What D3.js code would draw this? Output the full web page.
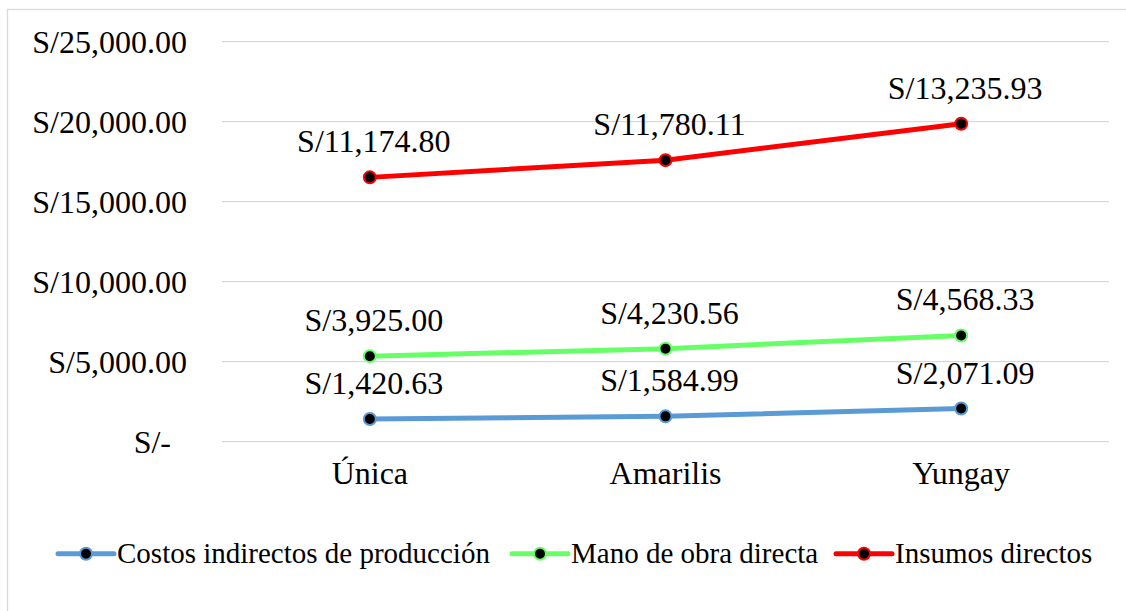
<!DOCTYPE html>
<html>
<head>
<meta charset="utf-8">
<script src="https://cdn.jsdelivr.net/npm/d3@7/dist/d3.min.js"></script>
</head>
<body style="margin:0">
<script>
// ---- Data ----
const categories = ["Única", "Amarilis", "Yungay"];
const seriesNames = ["Costos indirectos de producción", "Mano de obra directa", "Insumos directos"];
const costosIndirectos = [1420.63, 1584.99, 2071.09];
const manoDeObra = [3925.00, 4230.56, 4568.33];
const insumosDirectos = [11174.80, 11780.11, 13235.93];
const yTicks = [0, 5000, 10000, 15000, 20000, 25000];
const seriesColors = ["#5B9BD5", "#66FF66", "#FF0000"];

const seriesValues = [costosIndirectos, manoDeObra, insumosDirectos];

// ---- Layout ----
const FONT = '"Liberation Serif"';
const plot = { left: 222, right: 1109, top: 41.7, bottom: 441.7 };
const legendX = [58, 512, 836];
const svg = d3.select("body").append("svg")
  .attr("width", 1126).attr("height", 611)
  .style("display", "block");

function serif(sel, size) {
  sel.style("font-family", FONT, "important")
     .attr("font-size", size)
     .attr("fill", "#000");
  return sel;
}

// Chart frame border
svg.append("rect")
  .attr("x", 7.5).attr("y", 9.5)
  .attr("width", 1146).attr("height", 631)
  .attr("fill", "none").attr("stroke", "#d9d9d9").attr("stroke-width", 1.3);

const x = d3.scaleBand().domain(categories).range([plot.left, plot.right]);
const y = d3.scaleLinear().domain([0, 25000]).range([plot.bottom, plot.top]);

const money = d3.format(",.2f");
const fmt = v => v === 0 ? "S/-" : "S/" + money(v);

// Gridlines
svg.append("g").selectAll("line").data(yTicks).join("line")
  .attr("x1", plot.left).attr("x2", plot.right)
  .attr("y1", d => y(d)).attr("y2", d => y(d))
  .attr("stroke", "#d9d9d9").attr("stroke-width", 1.3);

// Y axis (labels only)
const yAxis = d3.axisLeft(y).tickValues(yTicks).tickFormat(fmt).tickSize(0).tickPadding(0);
const gy = svg.append("g").attr("transform", `translate(187,0)`).call(yAxis);
gy.select(".domain").remove();
gy.attr("font-family", null).attr("font-size", null);
serif(gy.selectAll("text"), 32)
  .attr("dy", "0.33em")
  .attr("dx", d => d === 0 ? -16 : 0);

// X axis (labels only)
const xAxis = d3.axisBottom(x).tickSize(0).tickPadding(0);
const gx = svg.append("g").attr("transform", `translate(0,${plot.bottom})`).call(xAxis);
gx.select(".domain").remove();
gx.attr("font-family", null).attr("font-size", null);
serif(gx.selectAll("text"), 32)
  .attr("y", 42).attr("dy", 0);

// Stacked values
const stacked = [];
const cum = categories.map(() => 0);
seriesValues.forEach((vals) => {
  stacked.push(vals.map((v, i) => { cum[i] += v; return { cat: categories[i], raw: v, top: cum[i] }; }));
});

const line = d3.line().x(d => x(d.cat) + x.bandwidth() / 2).y(d => y(d.top));

stacked.forEach((pts, si) => {
  const g = svg.append("g");
  g.append("path").datum(pts).attr("d", line)
    .attr("fill", "none").attr("stroke", seriesColors[si]).attr("stroke-width", 5)
    .attr("stroke-linecap", "round");
  g.selectAll("circle").data(pts).join("circle")
    .attr("cx", d => x(d.cat) + x.bandwidth() / 2).attr("cy", d => y(d.top))
    .attr("r", 6).attr("fill", "#000").attr("stroke", seriesColors[si]).attr("stroke-width", 2);
  serif(g.selectAll("text").data(pts).join("text"), 32)
    .attr("x", d => x(d.cat) + x.bandwidth() / 2 + 4).attr("y", d => y(d.top) - 25)
    .attr("text-anchor", "middle")
    .text(d => fmt(d.raw));
});

// Legend
const lineLen = 56;
const legend = svg.append("g").attr("transform", "translate(0,553.7)");
const items = legend.selectAll("g").data(seriesNames).join("g")
  .attr("transform", (d, i) => `translate(${legendX[i]},0)`);
items.append("line").attr("x1", 0).attr("x2", lineLen).attr("y1", 0).attr("y2", 0)
  .attr("stroke", (d, i) => seriesColors[i]).attr("stroke-width", 5).attr("stroke-linecap", "round");
items.append("circle").attr("cx", lineLen / 2).attr("cy", 0).attr("r", 6)
  .attr("fill", "#000").attr("stroke", (d, i) => seriesColors[i]).attr("stroke-width", 2);
serif(items.append("text"), 29).attr("x", lineLen + 3).attr("y", 9).text(d => d);
</script>
</body>
</html>
